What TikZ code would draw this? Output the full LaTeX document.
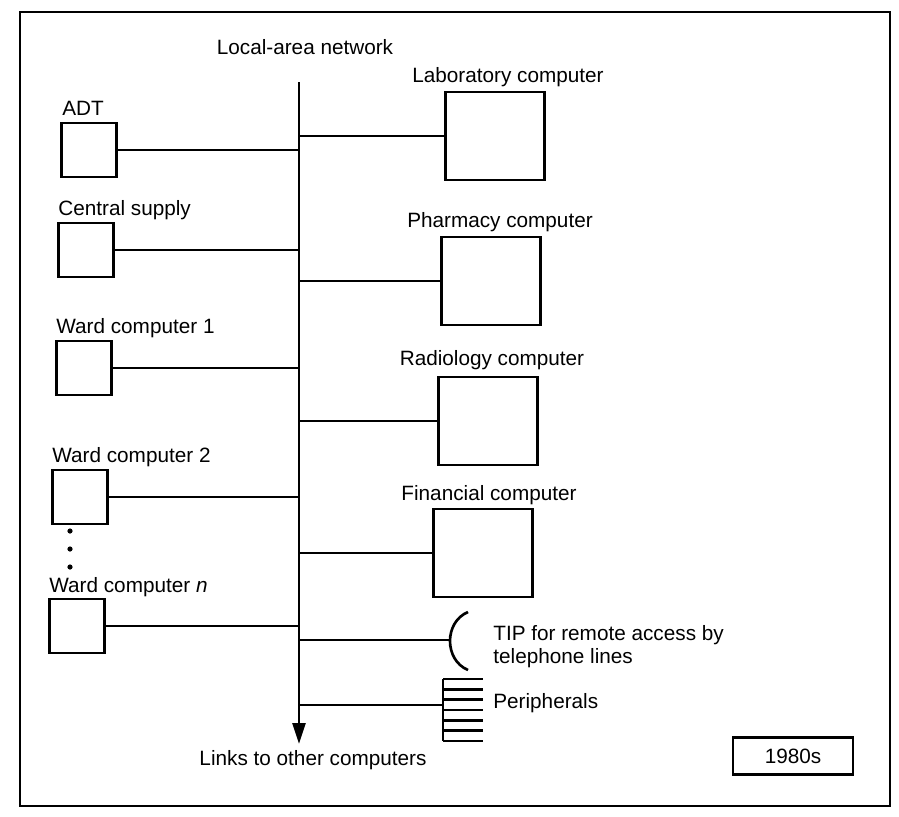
\documentclass[tikz,border=0pt]{standalone}
\usepackage{fontspec}
\setmainfont{Liberation Sans}
\usetikzlibrary{arrows.meta}

\begin{document}
\begin{tikzpicture}[
  x=0.02cm,y=-0.02cm,
  every node/.style={font=\fontsize{11.8}{14}\selectfont},
  lbl/.style={anchor=west,inner sep=0},
  wbox/.style={draw,line width=1.6pt,minimum width=1.1cm,minimum height=1.08cm,inner sep=0},
  cbox/.style={draw,line width=1.6pt,minimum width=1.98cm,minimum height=1.76cm,inner sep=0},
  edge/.style={black,line width=1.5pt}
]
  \useasboundingbox (0,0) rectangle (899,816);
  \draw[line width=1.5pt] (20,12) rectangle (890,806);

  % bus
  \node (lan) at (305,47) {Local-area network};
  \coordinate (top) at (299,82);
  \coordinate (bot) at (299,744);
  \draw[edge,-{Triangle[width=0.26cm,length=0.42cm]}] (top)--(bot);
  \node (links) at (313,760) {Links to other computers};

  % left side
  \node[lbl] (adtl) at (62,108) {ADT};
  \node[wbox] (adt) at (89,150) {};
  \node[lbl] (csl) at (58,210) {Central supply};
  \node[wbox] (cs) at (86,250) {};
  \node[lbl] (w1l) at (56,328) {Ward computer 1};
  \node[wbox] (w1) at (84,368) {};
  \node[lbl] (w2l) at (52,457) {Ward computer 2};
  \node[wbox] (w2) at (80,497) {};
  \node[lbl] (wnl) at (49,587) {Ward computer \textit{n}};
  \node[wbox] (wn) at (77,626) {};
  \foreach \d in {531,549,567}
    \fill (70,\d) circle (2.6);

  \draw[edge] (adt.east)--(adt.east -| top);
  \draw[edge] (cs.east)--(cs.east -| top);
  \draw[edge] (w1.east)--(w1.east -| top);
  \draw[edge] (w2.east)--(w2.east -| top);
  \draw[edge] (wn.east)--(wn.east -| top);

  % right side
  \node (labl) at (508,77) {Laboratory computer};
  \node[cbox] (lab) at (495,136) {};
  \node (phl) at (500,222) {Pharmacy computer};
  \node[cbox] (ph) at (491,281) {};
  \node (radl) at (492,360) {Radiology computer};
  \node[cbox] (rad) at (488,421) {};
  \node (finl) at (489,495) {Financial computer};
  \node[cbox] (fin) at (483,553) {};

  \draw[edge] (lab.west -| top)--(lab.west);
  \draw[edge] (ph.west -| top)--(ph.west);
  \draw[edge] (rad.west -| top)--(rad.west);
  \draw[edge] (fin.west -| top)--(fin.west);

  % TIP
  \coordinate (tip) at (449,640);
  \draw[edge] (468,612) .. controls (444,622) and (444,660) .. (468,670);
  \draw[edge] (tip -| top)--(tip);
  \node[lbl] (tipl) at (493,635) {TIP for remote access by};
  \node[lbl] (tipl2) at (493,658) {telephone lines};

  % peripherals
  \coordinate (per) at (443,705);
  \draw[edge] (per -| top)--(per);
  \draw[edge] (443,679)--(443,741);
  \foreach \i in {0,...,6}
    \draw[edge] (443,{679+10.33*\i})--(483,{679+10.33*\i});
  \node[lbl] (perl) at (493,703) {Peripherals};

  \node[draw,line width=1.6pt,minimum width=2.4cm,minimum height=0.74cm] (era) at (793,756) {1980s};
\end{tikzpicture}
\end{document}
